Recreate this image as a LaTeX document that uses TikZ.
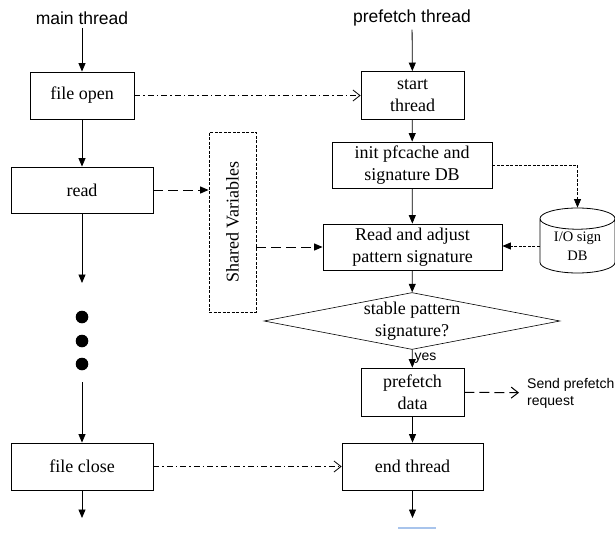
\documentclass[tikz,border=0pt]{standalone}
\usepackage{fontspec}
\setmainfont{Liberation Serif}
\newfontfamily\arialfont{Liberation Sans}
\usetikzlibrary{shapes.geometric,arrows.meta}
\definecolor{underblue}{RGB}{168,196,236}

\tikzset{
	box/.style={draw, line width=0.8pt, align=center, inner sep=0pt, font=\fontsize{18}{22}\selectfont},
	lbl/.style={font=\arialfont\fontsize{17.5}{21}\selectfont},
	smalllbl/.style={font=\arialfont\fontsize{14}{17}\selectfont, align=left},
	decision/.style={draw, diamond, aspect=5.2, line width=0.6pt, inner sep=0pt, align=center, font=\fontsize{18}{22}\selectfont},
	iodbstyle/.style={draw, cylinder, shape border rotate=90, aspect=0.45, line width=0.8pt, align=center, inner sep=0pt, font=\fontsize{14.5}{19}\selectfont},
	flow/.style={line width=0.8pt, -{Triangle[length=8.5pt,width=7pt]}},
	longdash/.style={line width=1pt, dash pattern=on 10pt off 5pt},
	shortdash/.style={line width=0.8pt, dash pattern=on 3pt off 1.5pt},
	dashdot/.style={line width=0.8pt, dash pattern=on 6pt off 3pt on 1.5pt off 3pt},
	openarrow/.style={-{Straight Barb[length=7pt,width=11pt]}}
}

\begin{document}
\begin{tikzpicture}[x=1pt,y=-1pt]
	\useasboundingbox (0,0) rectangle (615,535);

	\node[lbl] (mainlbl) at (82,18) {main thread};
	\node[box, minimum width=104pt, minimum height=47pt] (fopen) at (82,95.5) {file open};
	\node[box, minimum width=142pt, minimum height=46pt] (read) at (82,190) {read};
	\node[box, minimum width=142pt, minimum height=47pt] (fclose) at (82,466.5) {file close};
	\coordinate (dotstop) at (82,283);
	\coordinate (dotsbot) at (82,382);
	\coordinate (mainend) at (82,518);

	\foreach \y in {317,341,364}{
			\fill (82,\y) circle (6.3pt);
		}

	\node[draw, shortdash, minimum width=47pt, minimum height=180pt] (shared) at (232.5,222) {};
	\node[rotate=90, font=\fontsize{18}{22}\selectfont] (sharedtxt) at (232.5,222) {Shared Variables};

	\node[lbl] (preflbl) at (412,18) {prefetch thread};
	\node[box, minimum width=103pt, minimum height=48pt] (start) at (412.5,95.5) {start\\thread};
	\node[box, minimum width=160pt, minimum height=46pt] (init) at (412,165) {init pfcache and\\signature DB};
	\node[box, minimum width=179pt, minimum height=46pt] (adjust) at (412.5,247) {Read and adjust\\pattern signature};
	\node[decision, minimum width=292pt, minimum height=56pt] (stable) at (412,321) {stable pattern\\signature?};
	\node[box, minimum width=103pt, minimum height=48pt] (pdata) at (412.5,392) {prefetch\\data};
	\node[box, minimum width=141pt, minimum height=47pt] (endt) at (412.5,466.5) {end thread};
	\coordinate (prefend) at (412.5,518);

	\node[iodbstyle, minimum width=75pt, minimum height=65pt] (iodb) at (577.5,246) {I/O sign\\DB};
	\node[smalllbl, anchor=west, inner sep=4pt] (sendlbl) at (523,393) {Send prefetch\\request};

	\draw[flow] (mainlbl) -- (fopen);
	\draw[flow] (fopen) -- (read);
	\draw[flow] (read) -- (dotstop);
	\draw[flow] (dotsbot) -- (fclose);
	\draw[flow] (fclose) -- (mainend);

	\draw[flow] (preflbl) -- (start);
	\draw[flow] (start) -- (init);
	\draw[flow] (init) -- (adjust);
	\draw[flow] (adjust) -- (stable);
	\draw[flow] (stable) -- node[right, inner sep=2pt, font=\arialfont\fontsize{14}{17}\selectfont] {yes} (pdata);
	\draw[flow] (pdata) -- (endt);
	\draw[flow] (endt) -- (prefend);

	\draw[flow, longdash] (read) -- (read -| shared.west);
	\draw[flow, longdash] (adjust.west -| shared.east) -- (adjust);
	\draw[flow, shortdash] (init) -| (iodb);
	\draw[flow, shortdash] (iodb.west) -- (iodb.west -| adjust.east);

	\draw[dashdot, openarrow] (fopen) -- (start);
	\draw[dashdot, openarrow] (fclose) -- (endt);
	\draw[longdash, openarrow, shorten >=4pt] (pdata) -- (sendlbl);

	\draw[line width=2pt, underblue] (398,528) -- (436,528);

\end{tikzpicture}
\end{document}
